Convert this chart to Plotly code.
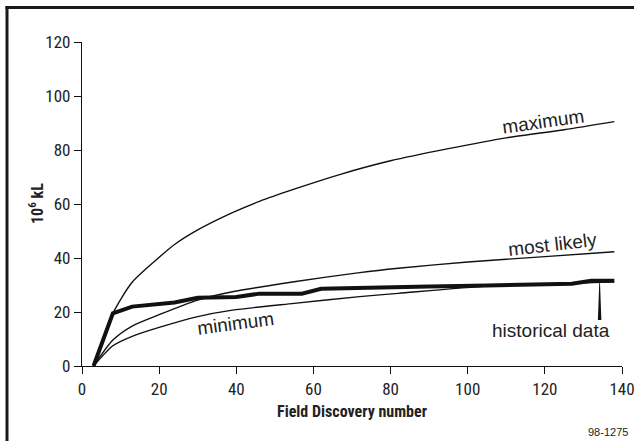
import plotly.graph_objects as go
import numpy as np

# ---- data ----
hist_x = [3, 8, 13, 18, 24, 30, 40, 46, 57, 62, 75, 90, 105, 127, 132, 138]
hist_y = [0, 19.5, 22, 22.6, 23.5, 25.3, 25.6, 26.8, 26.8, 28.6, 28.8, 29.4, 29.8, 30.5, 31.6, 31.6]

max_x = [3, 8, 13, 19, 24, 30, 39, 46, 55, 67, 80, 95, 110, 125, 138]
max_y = [0, 19.5, 31, 39, 45, 50.4, 56.8, 61, 65.5, 71, 76, 80.5, 84.5, 87.5, 90.5]

likely_x = [3, 8, 13, 20, 30, 39, 55, 72, 82, 100, 120, 138]
likely_y = [0, 9.6, 14.8, 19, 24.4, 27.5, 31.2, 34.6, 36.2, 38.5, 40.5, 42.3]

min_x = [3, 8, 13, 20, 30, 39, 55, 72, 82, 105, 120, 138]
min_y = [0, 7.5, 11, 14.3, 18.3, 20.7, 23.2, 25.7, 26.9, 29.6, 30.3, 31.2]

x_ticks = [0, 20, 40, 60, 80, 100, 120, 140]
y_ticks = [0, 20, 40, 60, 80, 100, 120]

x_title = "Field Discovery number"
y_title = "10<sup>6</sup> kL"
fig_id = "98-1275"

# label positions (data coords) and rotation
labels = [
    ("maximum", 119.5, 90.6, -8),
    ("most likely", 121.9, 44.9, -6.5),
    ("minimum", 39.7, 15.9, -7.5),
]
hist_label = ("historical data", 121.5, 13.3)
pointer_x = 134.2
pointer_bottom = 17.0

COND = "Liberation Sans Narrow, Roboto Condensed, DejaVu Sans Condensed, Liberation Sans, Arial"
SANS = "Liberation Sans, Arial, Helvetica"

# layout geometry (pixels)
W, H = 634, 441
ML, MR, MT, MB = 82, 12, 42, 75
PW, PH = W - ML - MR, H - MT - MB


def px_to_paper_x(px):
    return (px - ML) / PW


def px_to_paper_y(py):
    return (H - MB - py) / PH


fig = go.Figure()
for xs, ys in [(max_x, max_y), (likely_x, likely_y), (min_x, min_y)]:
    fig.add_trace(go.Scatter(x=xs, y=ys, mode="lines",
                             line=dict(color="#111111", width=1.4, shape="spline", smoothing=0.7),
                             hoverinfo="skip", showlegend=False))
fig.add_trace(go.Scatter(x=hist_x, y=hist_y, mode="lines",
                         line=dict(color="#111111", width=4),
                         hoverinfo="skip", showlegend=False))

# pointer wedge for historical data
py = float(np.interp(pointer_x, hist_x, hist_y))
w = 0.45
fig.add_shape(type="path",
              path=f"M {pointer_x-0.08},{py} L {pointer_x+0.08},{py} L {pointer_x+w},{pointer_bottom} L {pointer_x-w},{pointer_bottom} Z",
              fillcolor="#111111", line=dict(width=0), xref="x", yref="y")

for text, x, y, ang in labels:
    fig.add_annotation(x=x, y=y, text=text, showarrow=False, textangle=ang,
                       font=dict(family=SANS, size=19, color="#222222"),
                       xanchor="center", yanchor="middle")
fig.add_annotation(x=hist_label[1], y=hist_label[2], text=hist_label[0], showarrow=False,
                   font=dict(family=SANS, size=19, color="#222222"),
                   xanchor="center", yanchor="middle")

# y-axis title
fig.add_annotation(xref="paper", yref="paper", x=px_to_paper_x(36), y=0.5, text=y_title,
                   showarrow=False, textangle=-90, xanchor="center", yanchor="middle",
                   font=dict(family=COND, size=16, color="#222222", weight="bold"))

# figure id
fig.add_annotation(xref="paper", yref="paper", x=px_to_paper_x(630), y=px_to_paper_y(432),
                   text=fig_id, showarrow=False, xanchor="right", yanchor="middle",
                   font=dict(family=SANS, size=11, color="#222222"))

# frame lines (top and left)
fig.add_shape(type="line", xref="paper", yref="paper",
              x0=px_to_paper_x(5.5), x1=px_to_paper_x(640), y0=px_to_paper_y(7.5), y1=px_to_paper_y(7.5),
              line=dict(color="#1a1a1a", width=3), layer="above")
fig.add_shape(type="line", xref="paper", yref="paper",
              x0=px_to_paper_x(7), x1=px_to_paper_x(7), y0=px_to_paper_y(6), y1=px_to_paper_y(445),
              line=dict(color="#1a1a1a", width=3), layer="above")

axis_common = dict(showline=True, linecolor="#111111", linewidth=1.3, ticks="outside",
                   ticklen=7, tickwidth=1.3, tickcolor="#111111", showgrid=False,
                   zeroline=False, ticklabeloverflow="allow", automargin=False,
                   tickfont=dict(family=COND, size=17, color="#222222"))

fig.update_layout(
    width=W, height=H,
    margin=dict(l=ML, r=MR, t=MT, b=MB, autoexpand=False),
    paper_bgcolor="white", plot_bgcolor="white",
    xaxis=dict(range=[0, 140], tickvals=x_ticks,
               title=dict(text=x_title, font=dict(family=COND, size=16, color="#222222", weight="bold"), standoff=8),
               **axis_common),
    yaxis=dict(range=[0, 120], tickvals=y_ticks, **axis_common),
)

fig.write_html("out.html", config={"displayModeBar": False},
               post_script="document.body.style.margin='0';")
